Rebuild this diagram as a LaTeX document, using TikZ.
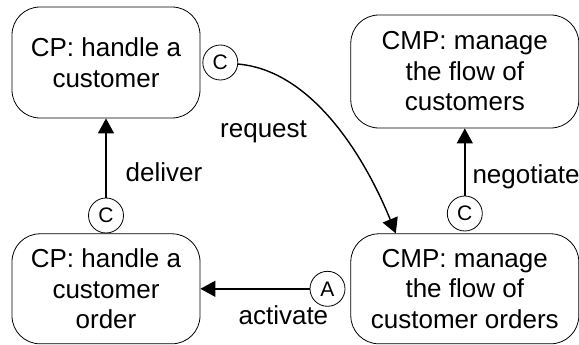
\documentclass[tikz,border=0pt]{standalone}
\usepackage{fontspec}
\setmainfont{Liberation Sans}
\usepackage{tikz}
\usetikzlibrary{positioning}
\usetikzlibrary{arrows.meta}

\tikzset{proc/.style={draw,line width=0.8pt,rounded corners=28pt,align=center,inner sep=0pt},
         port/.style={draw,circle,line width=0.8pt,minimum size=35pt,inner sep=0pt,
                      font=\fontsize{21}{22}\selectfont},
         lbl/.style={inner sep=2pt}}

\begin{document}
\begin{tikzpicture}[->,>={Triangle[length=15pt,width=16pt]},auto,x=1pt,y=1pt,
                    line width=1.4pt,node distance=3pt,
                    font=\fontsize{26}{30.5}\selectfont]
\useasboundingbox (0,0) rectangle (579,-345);
\node[proc,minimum width=188pt,minimum height=111pt] (cust) at (106,-62.5) {CP: handle a\\customer};
\node[proc,minimum width=188pt,minimum height=110pt,below = 115pt of cust] (order) {CP: handle a\\customer\\order};
\node[proc,minimum width=228pt,minimum height=110pt,right = 150pt of order] (flowo) {CMP: manage\\the flow of\\customer orders};
\node[proc,minimum width=228pt,minimum height=113pt,above = 105pt of flowo] (flowc) {CMP: manage\\the flow of\\customers};
\node[port,right = 2pt of cust] (pcust) {C};
\node[port,above = 0pt of order] (porder) {C};
\node[port,above = 2pt of flowo] (pflowo) {C};
\node[port,left = 5pt of flowo] (pact) {A};
\coordinate (reqin) at ([xshift=-69pt]flowo.north);
\path (porder) edge node[lbl,pos=0.32,right=17pt] {deliver} (cust)
      (pcust) edge [out=-5,in=112,looseness=0.85] node[lbl,pos=0.35,below left=20pt and 0pt] {request} (reqin)
      (pflowo) edge node[lbl,pos=0.28,right=5pt] {negotiate} (flowc)
      (pact) edge node[lbl,pos=0.24,below=14pt] {activate} (order);
\end{tikzpicture}
\end{document}
